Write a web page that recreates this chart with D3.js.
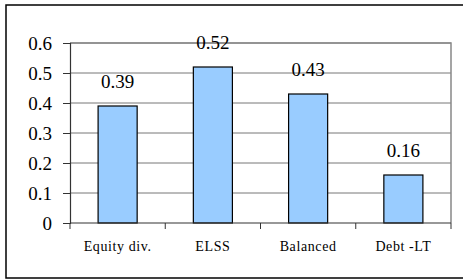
<!DOCTYPE html>
<html>
<head>
<meta charset="utf-8">
<script src="https://cdn.jsdelivr.net/npm/d3@7"></script>
<style>
  body { margin: 0; background: #fff; }
  svg { display: block; }
  text.serif { font-family: 'Liberation Serif', 'DejaVu Serif', serif; }
</style>
</head>
<body>
<svg id="chart" width="463" height="280"></svg>
<script>
// values
var categories = ['Equity div.', 'ELSS', 'Balanced', 'Debt -LT'];
var values = [0.39, 0.52, 0.43, 0.16];
var yTicks = [0, 0.1, 0.2, 0.3, 0.4, 0.5, 0.6];

var svg = d3.select('#chart');
var plot = {left: 70, right: 451, top: 43, bottom: 223};

// outer frame (right edge runs off the picture)
svg.append('rect')
	.attr('x', 6).attr('y', 5)
	.attr('width', 470).attr('height', 273)
	.attr('fill', 'none')
	.attr('stroke', '#000')
	.attr('stroke-width', 1.5);

var x = d3.scaleBand()
	.domain(categories)
	.range([plot.left, plot.right])
	.paddingInner(0.59)
	.paddingOuter(0.295);

var y = d3.scaleLinear()
	.domain([0, 0.6])
	.range([plot.bottom, plot.top]);

// gridlines
svg.append('g')
	.selectAll('line')
	.data(yTicks.filter(d => d > 0))
	.enter().append('line')
	.attr('x1', plot.left).attr('x2', plot.right)
	.attr('y1', d => y(d)).attr('y2', d => y(d))
	.attr('stroke', '#777')
	.attr('stroke-width', 1);

// plot border, top and right
svg.append('path')
	.attr('d', `M${plot.left},${plot.top}H${plot.right}V${plot.bottom}`)
	.attr('fill', 'none')
	.attr('stroke', '#888')
	.attr('stroke-width', 1.5);

// bars
svg.append('g')
	.selectAll('rect')
	.data(values)
	.enter().append('rect')
	.attr('x', (d, i) => x(categories[i]))
	.attr('y', d => y(d))
	.attr('width', x.bandwidth())
	.attr('height', d => y(0) - y(d))
	.attr('fill', '#99ccff')
	.attr('stroke', '#000')
	.attr('stroke-width', 1.2);

// value labels
svg.append('g')
	.selectAll('text')
	.data(values)
	.enter().append('text')
	.classed('serif', true)
	.attr('x', (d, i) => x(categories[i]) + x.bandwidth() / 2)
	.attr('y', d => y(d) - 18)
	.attr('text-anchor', 'middle')
	.attr('font-size', 19)
	.text(d => d.toFixed(2));

// y axis
var yAxis = svg.append('g')
	.attr('transform', `translate(${plot.left},0)`)
	.call(d3.axisLeft(y).tickValues(yTicks).tickSize(7).tickPadding(11)
		.tickFormat(d => d === 0 ? '0' : d3.format('.1f')(d)));
yAxis.attr('font-family', null).attr('font-size', null);
yAxis.select('.domain').attr('stroke', '#333').attr('stroke-width', 1.2);
yAxis.selectAll('.tick line').attr('stroke', '#333');
yAxis.selectAll('.tick text')
	.classed('serif', true)
	.attr('fill', '#000')
	.attr('font-size', 19);

// x axis: ticks at category boundaries
var xAxis = svg.append('g')
	.attr('transform', `translate(0,${plot.bottom})`);
var bounds = d3.range(categories.length + 1).map(i => plot.left + i * x.step());
xAxis.append('line')
	.attr('x1', plot.left).attr('x2', plot.right)
	.attr('stroke', '#333').attr('stroke-width', 1.2);
xAxis.selectAll('.xt')
	.data(bounds)
	.enter().append('line')
	.attr('x1', d => d).attr('x2', d => d)
	.attr('y1', 0).attr('y2', 6)
	.attr('stroke', '#333');
xAxis.selectAll('.xl')
	.data(categories)
	.enter().append('text')
	.classed('serif', true)
	.attr('x', d => x(d) + x.bandwidth() / 2)
	.attr('y', 28)
	.attr('text-anchor', 'middle')
	.attr('font-size', 14)
	.style('letter-spacing', '0.6px')
	.text(d => d);
</script>
</body>
</html>
